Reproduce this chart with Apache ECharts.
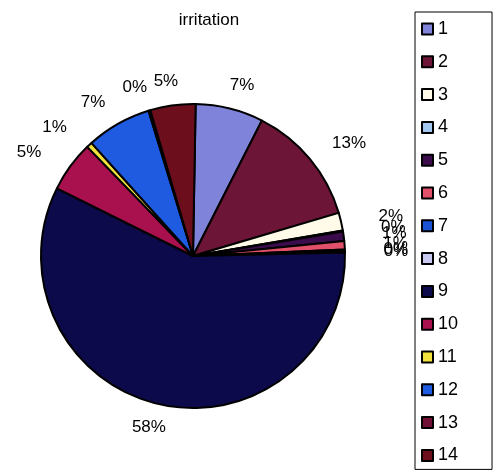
<!DOCTYPE html>
<html>
<head>
<meta charset="utf-8">
<script src="https://cdn.jsdelivr.net/npm/echarts@6/dist/echarts.min.js"></script>
<style>
  html, body { margin: 0; padding: 0; background: #fff; }
  #chart { width: 499px; height: 474px; }
</style>
</head>
<body>
<div id="chart"></div>
<script>
// Slice names and their shares of "irritation"
const categories = ['1', '2', '3', '4', '5', '6', '7', '8', '9', '10', '11', '12', '13', '14'];
const values = [7.2, 12.9, 1.9, 0.1, 1.0, 0.9, 0.2, 0.1, 57.6, 5.4, 0.6, 6.9, 0.2, 4.8];
const colors = ['#8083da', '#6c1536', '#fffbe8', '#a4c8f0', '#3a0c4c', '#e0506a', '#1c52d4',
                '#c9c9f2', '#0c0a4a', '#a8104e', '#f2e23e', '#1f5be0', '#701034', '#6c0e1c'];

// Pie geometry
const CX = 193, CY = 256, R = 152, START = 89;
// Labels sit on a wider ring around the pie (horizontal / vertical radius)
const LABEL_RX = 203, LABEL_RY = 176;

const total = values.reduce((a, b) => a + b, 0);
const midAngles = [];
let acc = 0;
values.forEach(v => {
  midAngles.push((START - 360 * (acc + v / 2) / total) * Math.PI / 180);
  acc += v;
});

const FONT = 'Liberation Sans, Arial, sans-serif';
const chart = echarts.init(document.getElementById('chart'), null, { renderer: 'canvas' });

chart.setOption({
  backgroundColor: '#ffffff',
  animation: false,
  title: {
    text: 'irritation',
    left: 204,
    top: 7,
    textAlign: 'center',
    textStyle: { fontFamily: FONT, fontSize: 17, fontWeight: 'normal', color: '#000' }
  },
  legend: {
    orient: 'vertical',
    left: 415,
    top: 12,
    icon: 'rect',
    itemWidth: 11,
    itemHeight: 11,
    itemGap: 14.8,
    padding: [8, 34, 5, 6],
    borderColor: '#000',
    borderWidth: 1,
    itemStyle: { borderColor: '#000', borderWidth: 2 },
    textStyle: { fontFamily: FONT, fontSize: 18, lineHeight: 18, color: '#000' },
    data: categories
  },
  series: [{
    type: 'pie',
    center: [CX, CY],
    radius: R,
    startAngle: START,
    clockwise: true,
    avoidLabelOverlap: false,
    color: colors,
    itemStyle: { borderColor: '#000', borderWidth: 2 },
    label: {
      show: true,
      position: 'outside',
      fontFamily: FONT,
      fontSize: 17,
      color: '#000',
      formatter: p => Math.round(p.percent) + '%'
    },
    labelLine: { show: false },
    labelLayout: p => {
      const a = midAngles[p.dataIndex];
      return {
        x: CX + Math.cos(a) * LABEL_RX,
        y: CY - Math.sin(a) * LABEL_RY,
        align: 'center',
        verticalAlign: 'middle'
      };
    },
    emphasis: { disabled: true },
    data: categories.map((c, i) => ({ name: c, value: values[i] }))
  }]
});
</script>
</body>
</html>
